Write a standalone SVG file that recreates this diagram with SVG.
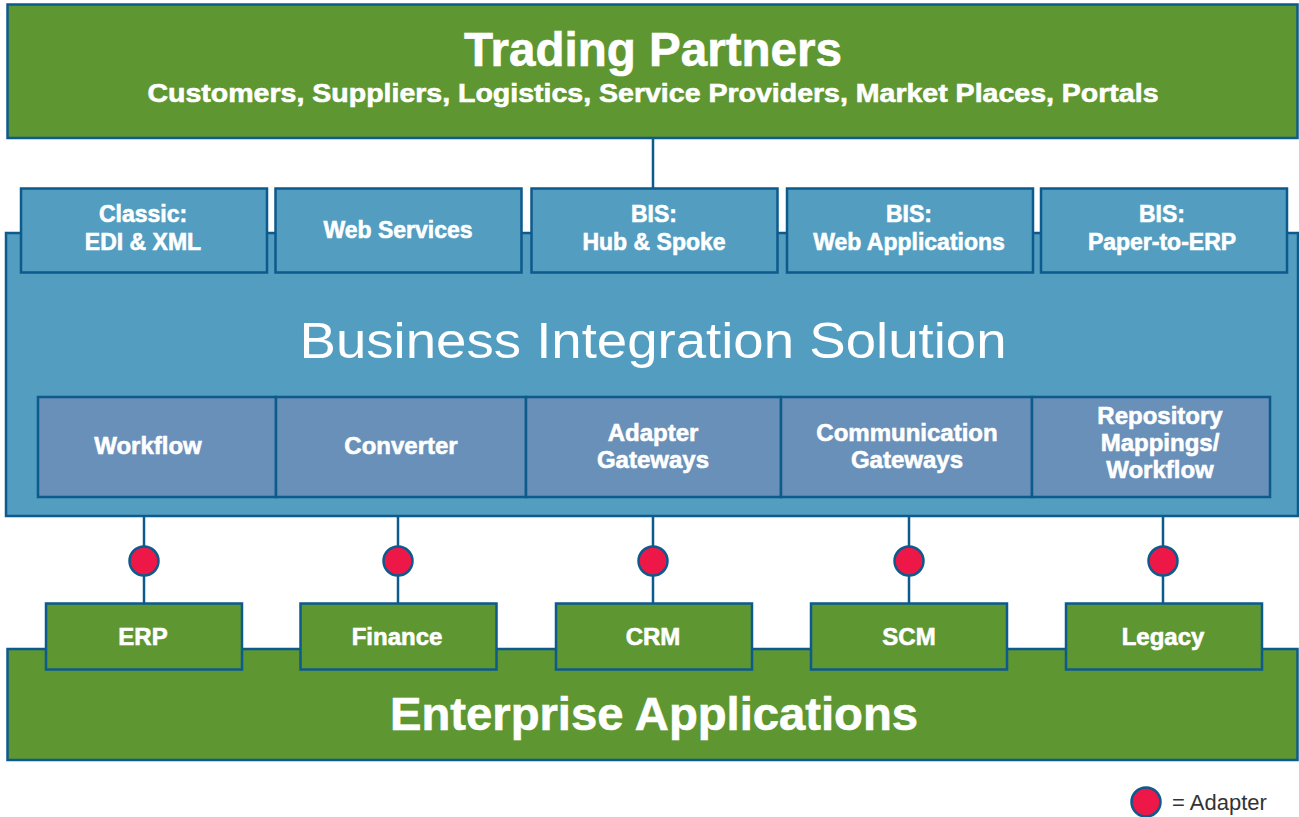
<svg xmlns="http://www.w3.org/2000/svg" width="1299" height="817" viewBox="0 0 1299 817">
<style>
.green{fill:#5e9732;stroke:#0d5a8c;stroke-width:2.5}
.blue{fill:#529dc0;stroke:#0d5a8c;stroke-width:2.5}
.inner{fill:#6890b9;stroke:#0d5a8c;stroke-width:2.5}
.line{stroke:#0d5a8c;stroke-width:2.5;fill:none}
.adapter{fill:#ee1848;stroke:#0d5a8c;stroke-width:2.5}
.t{font-family:"Liberation Sans",Arial,sans-serif;font-weight:bold;fill:#fff;stroke:#fff;stroke-width:0.6;text-anchor:middle}
.tab{font-size:23px}
.mod{font-size:24px}
.app{font-size:24px}
</style>
<rect width="1299" height="817" fill="#fff"/>
<g id="connectors">
<line class="line" x1="653" y1="138" x2="653" y2="190"/>
<line class="line" x1="144" y1="516" x2="144" y2="604"/>
<line class="line" x1="398" y1="516" x2="398" y2="604"/>
<line class="line" x1="653" y1="516" x2="653" y2="604"/>
<line class="line" x1="909" y1="516" x2="909" y2="604"/>
<line class="line" x1="1163" y1="516" x2="1163" y2="604"/>
</g>
<g id="trading-partners">
<rect class="green" x="7.5" y="4.5" width="1290" height="133.5"/>
<text class="t" x="653" y="66" font-size="48" textLength="378" lengthAdjust="spacingAndGlyphs">Trading Partners</text>
<text class="t" x="653" y="102" font-size="25" textLength="1011" lengthAdjust="spacingAndGlyphs">Customers, Suppliers, Logistics, Service Providers, Market Places, Portals</text>
</g>
<g id="bis">
<rect class="blue" x="6" y="233" width="1292" height="283"/>
<text x="653" y="358" font-family="'Liberation Sans',Arial,sans-serif" font-size="50" fill="#fff" text-anchor="middle" textLength="707" lengthAdjust="spacingAndGlyphs">Business Integration Solution</text>
</g>
<g id="tab-classic">
<rect class="blue" x="21" y="188.5" width="246" height="84"/>
<text class="t tab" x="143" y="222">Classic:</text>
<text class="t tab" x="143" y="250">EDI &amp; XML</text>
</g>
<g id="tab-webservices">
<rect class="blue" x="275.5" y="188.5" width="246" height="84"/>
<text class="t tab" x="398" y="238">Web Services</text>
</g>
<g id="tab-hub">
<rect class="blue" x="531.5" y="188.5" width="246" height="84"/>
<text class="t tab" x="654" y="222">BIS:</text>
<text class="t tab" x="654" y="250">Hub &amp; Spoke</text>
</g>
<g id="tab-webapps">
<rect class="blue" x="787" y="188.5" width="246" height="84"/>
<text class="t tab" x="909" y="222">BIS:</text>
<text class="t tab" x="909" y="250">Web Applications</text>
</g>
<g id="tab-paper">
<rect class="blue" x="1041" y="188.5" width="246" height="84"/>
<text class="t tab" x="1162" y="222">BIS:</text>
<text class="t tab" x="1162" y="250">Paper-to-ERP</text>
</g>
<g id="mod-workflow">
<rect class="inner" x="38" y="397" width="238" height="100"/>
<text class="t mod" x="148" y="454">Workflow</text>
</g>
<g id="mod-converter">
<rect class="inner" x="276" y="397" width="250" height="100"/>
<text class="t mod" x="401" y="454">Converter</text>
</g>
<g id="mod-adapter">
<rect class="inner" x="526" y="397" width="255" height="100"/>
<text class="t mod" x="653" y="441">Adapter</text>
<text class="t mod" x="653" y="468">Gateways</text>
</g>
<g id="mod-comm">
<rect class="inner" x="781" y="397" width="251" height="100"/>
<text class="t mod" x="907" y="441">Communication</text>
<text class="t mod" x="907" y="468">Gateways</text>
</g>
<g id="mod-repo">
<rect class="inner" x="1032" y="397" width="238" height="100"/>
<text class="t mod" x="1160" y="424">Repository</text>
<text class="t mod" x="1160" y="451">Mappings/</text>
<text class="t mod" x="1160" y="478">Workflow</text>
</g>
<g id="adapters">
<circle class="adapter" cx="144" cy="561" r="14.5"/>
<circle class="adapter" cx="398" cy="561" r="14.5"/>
<circle class="adapter" cx="653" cy="561" r="14.5"/>
<circle class="adapter" cx="909" cy="561" r="14.5"/>
<circle class="adapter" cx="1163" cy="561" r="14.5"/>
</g>
<g id="enterprise">
<rect class="green" x="7.5" y="649" width="1290" height="111"/>
<text class="t" x="654" y="730" font-size="46" textLength="528" lengthAdjust="spacingAndGlyphs">Enterprise Applications</text>
</g>
<g id="app-erp">
<rect class="green" x="46" y="603.5" width="196" height="66"/>
<text class="t app" x="143" y="645">ERP</text>
</g>
<g id="app-finance">
<rect class="green" x="300.5" y="603.5" width="196" height="66"/>
<text class="t app" x="397" y="645">Finance</text>
</g>
<g id="app-crm">
<rect class="green" x="556" y="603.5" width="196" height="66"/>
<text class="t app" x="653" y="645">CRM</text>
</g>
<g id="app-scm">
<rect class="green" x="811" y="603.5" width="196" height="66"/>
<text class="t app" x="909" y="645">SCM</text>
</g>
<g id="app-legacy">
<rect class="green" x="1066" y="603.5" width="196" height="66"/>
<text class="t app" x="1163" y="645">Legacy</text>
</g>
<g id="legend">
<circle class="adapter" cx="1146" cy="802" r="14.5"/>
<text x="1172" y="810" font-family="'Liberation Sans',Arial,sans-serif" font-size="22" fill="#333">= Adapter</text>
</g>
</svg>
